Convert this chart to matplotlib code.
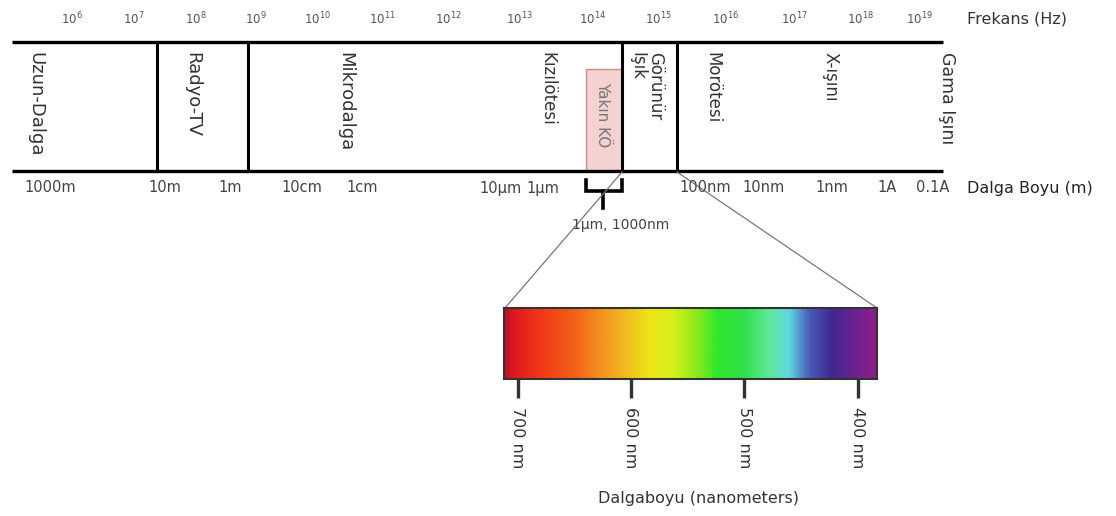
import matplotlib
matplotlib.use("Agg")
import matplotlib.pyplot as plt
import numpy as np
from matplotlib.colors import LinearSegmentedColormap
from matplotlib.patches import Rectangle

# ---------------- data ----------------
freq_exponents = [6, 7, 8, 9, 10, 11, 12, 13, 14, 15, 16, 17, 18, 19]
wave_labels = ["1000m", "10m", "1m", "10cm", "1cm", "10µm", "1µm",
               "100nm", "10nm", "1nm", "1A", "0.1A"]
band_names = ["Uzun-Dalga", "Radyo-TV", "Mikrodalga", "Kızılötesi",
              "Görünür\nIşık", "Morötesi", "X-ışını", "Gama Işını"]
nir_label = "Yakın KÖ"
bracket_label = "1µm, 1000nm"
spec_ticks = [700, 600, 500, 400]
spec_tick_labels = ["700 nm", "600 nm", "500 nm", "400 nm"]
spec_stop_nm = [712, 704, 681, 651, 628, 607, 584, 563, 542, 524, 501, 478,
                460, 442, 422, 401, 383]
spec_stop_colors = ["#b8102a", "#e01820", "#f03818", "#f26018", "#f39020",
                    "#f0b820", "#eee418", "#d6f018", "#8ee81c", "#30e82a",
                    "#30e048", "#5ee898", "#60d8e0", "#4a5cb8", "#40288e",
                    "#6c2290", "#902088"]
spec_range_nm = (712, 383)

# ---------------- layout (pixel units of the 1116x516 canvas) ----------------
freq_x = [72, 134, 196, 256, 317, 382, 448, 519, 593, 658, 726, 794, 860, 919]
wave_x = [50, 165, 230, 302, 362, 501, 543, 705, 764, 832, 887, 933]
band_x = [35, 192, 345, 547, 646, 712, 830, 947]
band_fs = [13, 13, 13, 12, 12, 12, 12, 12.5]
dividers_x = [157, 248, 622, 677]
line_left, line_right = 12, 943
top_y, bot_y = 42, 171

fig = plt.figure(figsize=(11.16, 5.16), dpi=100)
ax = fig.add_axes([0, 0, 1, 1])
ax.set_xlim(0, 1116)
ax.set_ylim(516, 0)
ax.axis("off")

txt = "#444444"
# frequency labels
for e, x in zip(freq_exponents, freq_x):
    ax.text(x, 19, r"10$^{%d}$" % e, ha="center", va="center",
            fontsize=8.5, color="#555555")
ax.text(967, 19, "Frekans (Hz)", ha="left", va="center", fontsize=11.5,
        color="#333333")

# main band lines
ax.plot([line_left, line_right], [top_y, top_y], color="black", lw=2.4,
        solid_capstyle="butt")
ax.plot([line_left, line_right], [bot_y, bot_y], color="black", lw=2.4,
        solid_capstyle="butt")
for x in dividers_x:
    ax.plot([x, x], [top_y, bot_y], color="black", lw=2.2)

# near-IR box
ax.add_patch(Rectangle((586, 69), 622 - 586, bot_y - 69, facecolor="#f4d2d2",
                       edgecolor="#c98a8a", lw=1.0, zorder=1))
ax.text(603, 82, nir_label, rotation=-90, ha="center", va="top",
        fontsize=11, color="#777777")

# band names
for name, x, fs in zip(band_names, band_x, band_fs):
    ax.text(x, 52, name, rotation=-90, ha="center", va="top",
            fontsize=fs, color="#333333", linespacing=0.95,
            multialignment="left")

# wavelength labels
for lab, x in zip(wave_labels, wave_x):
    ax.text(x, 188, lab, ha="center", va="center", fontsize=10.5, color=txt)
ax.text(967, 188, "Dalga Boyu (m)", ha="left", va="center", fontsize=11.5,
        color="#222222")

# bracket
ax.plot([586, 586, 622, 622], [180, 191, 191, 180], color="black", lw=2.6,
        solid_joinstyle="miter")
ax.plot([603, 603], [191, 208], color="black", lw=2.6)
ax.text(621, 225, bracket_label, ha="center", va="center", fontsize=10,
        color=txt)

# zoom lines to spectrum
ax.plot([622, 505], [172, 308], color="#777777", lw=0.9)
ax.plot([677, 877], [172, 308], color="#777777", lw=0.9)

# ---------------- spectrum inset ----------------
W, H = 1116, 516
sx0, sx1, sy0, sy1 = 504, 877, 308, 379
sax = fig.add_axes([sx0 / W, 1 - sy1 / H, (sx1 - sx0) / W, (sy1 - sy0) / H])
lo, hi = spec_range_nm
pos = [(lo - v) / (lo - hi) for v in spec_stop_nm]
cmap = LinearSegmentedColormap.from_list("spec", list(zip(pos, spec_stop_colors)))
grad = np.linspace(0, 1, 600)[None, :]
sax.imshow(grad, aspect="auto", cmap=cmap, extent=[lo, hi, 0, 1])
sax.set_xlim(lo, hi)
sax.set_ylim(0, 1)
sax.set_yticks([])
sax.set_xticks(spec_ticks)
sax.set_xticklabels(spec_tick_labels, rotation=-90, fontsize=11.5,
                    color="#333333")
sax.tick_params(axis="x", length=14, width=2.4, color="#333333", pad=6)
for sp in sax.spines.values():
    sp.set_color("#333333")
    sp.set_linewidth(1.5)
ax.text(698, 498, "Dalgaboyu (nanometers)", ha="center", va="center",
        fontsize=11.5, color="#333333")

fig.savefig("out.png", dpi=100)
